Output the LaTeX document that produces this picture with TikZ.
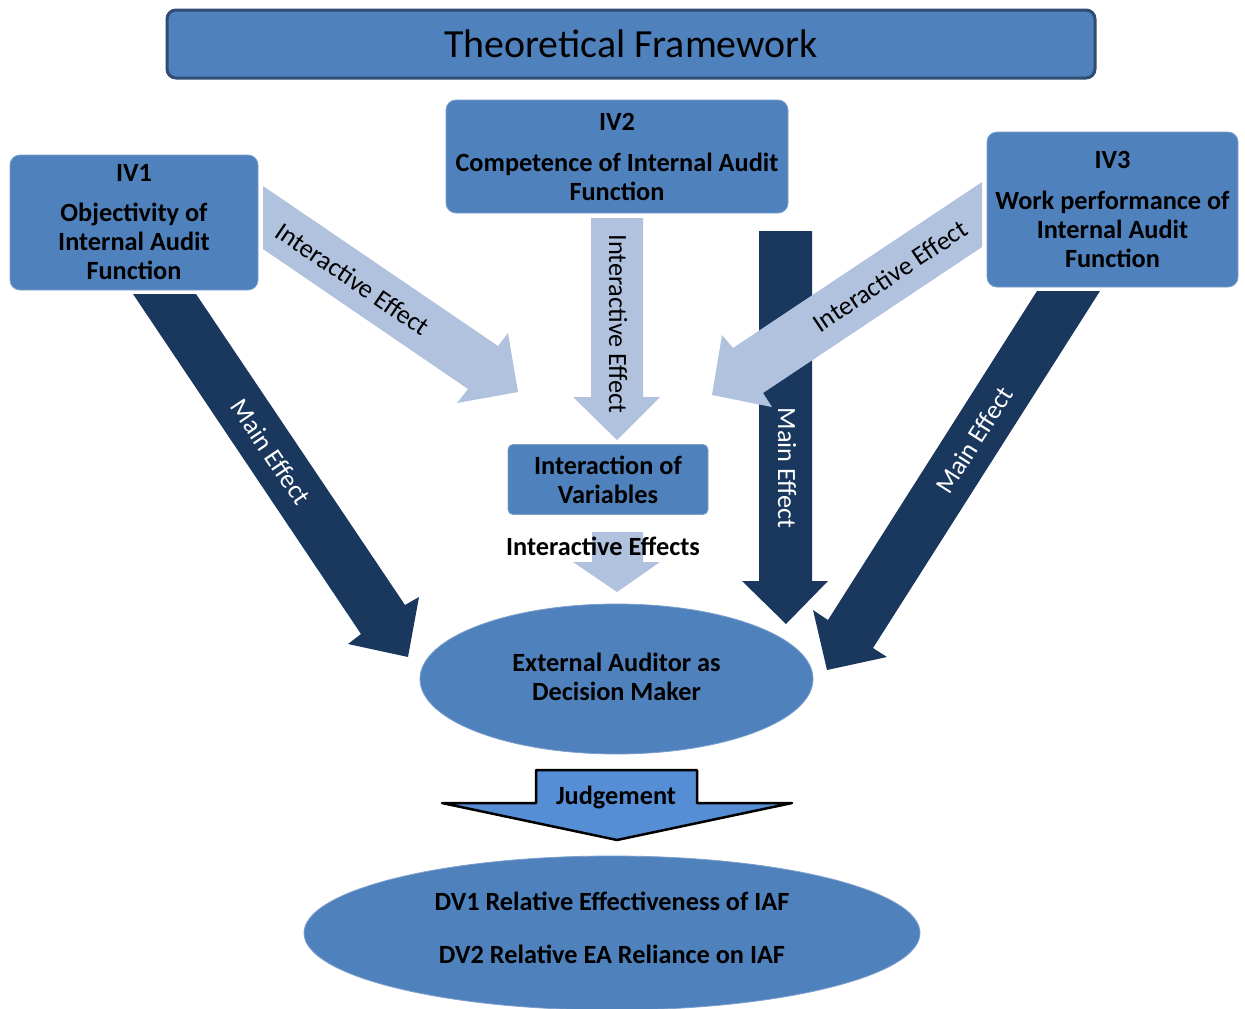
\documentclass[tikz,border=0pt]{standalone}
\usepackage{fontspec}
\setmainfont{Carlito}
\usetikzlibrary{shapes.geometric}
\definecolor{boxblue}{HTML}{4F81BD}
\definecolor{boxedge}{HTML}{7C9FCC}
\definecolor{darkarrow}{HTML}{1A375E}
\definecolor{lightarrow}{HTML}{B1C2DE}
\definecolor{titleedge}{HTML}{2F4D73}
\definecolor{judgeblue}{HTML}{558ED5}
\begin{document}
\begin{tikzpicture}[x=1pt,y=-1pt,
  nodefont/.style={font=\fontsize{26.3}{29}\selectfont\bfseries},
  box/.style={rectangle, rounded corners=10pt, fill=boxblue, draw=boxedge, line width=0.8pt,
    inner sep=0pt, align=center, nodefont},
  oval/.style={ellipse, fill=boxblue, draw=boxedge, line width=0.8pt, inner sep=0pt},
  lbl/.style={font=\fontsize{26.3}{29}\selectfont, inner sep=0pt},
  txt/.style={inner sep=0pt, align=center, nodefont},
  darklbl/.style={lbl, text=white},
  darkfill/.style={fill=darkarrow},
  lightfill/.style={fill=lightarrow}]
\useasboundingbox (0,0) rectangle (1245,1009);
\fill[white] (0,0) rectangle (1245,1009);

% ---- block arrows (drawn first) ----
% left main effect
\fill[darkfill] (133,294) -- (196,294) -- (405,605) -- (419,597) -- (408,657) -- (348,644) -- (361,634) -- cycle;
% vertical main effect
\fill[darkfill] (759,231) -- (812,231) -- (812,581) -- (828,581) -- (786,624) -- (742,581) -- (759,581) -- cycle;
% right main effect
\fill[darkfill] (1037,291) -- (1100,291) -- (873,648) -- (887,657) -- (827,670) -- (813,610) -- (828,620) -- cycle;
% left interactive effect
\fill[lightfill] (263,186) -- (498,346) -- (508,333) -- (518,392) -- (457,403) -- (468,389) -- (263,249) -- cycle;
% centre interactive effect
\fill[lightfill] (591,218) -- (643,218) -- (643,397) -- (660,397) -- (617,440) -- (573,397) -- (591,397) -- cycle;
% right interactive effect
\fill[lightfill] (982,182) -- (982,247) -- (763,393) -- (772,407) -- (712,395) -- (722,335) -- (733,348) -- cycle;
% small interactive effects arrow
\fill[lightfill] (592,532) -- (643,532) -- (643,562) -- (660,562) -- (617,592) -- (573,562) -- (592,562) -- cycle;

% ---- arrow labels ----
\node[lbl, rotate=-34.2] (l1) at (353,279) {Interactive Effect};
\node[lbl, rotate=-90] (l2) at (618,324) {Interactive Effect};
\node[lbl, rotate=33.7] (l3) at (890,276) {Interactive Effect};
\node[darklbl, rotate=-56.1] (m1) at (271,452) {Main Effect};
\node[darklbl, rotate=-90] (m2) at (787,468) {Main Effect};
\node[darklbl, rotate=57.5] (m3) at (974,440) {Main Effect};

% ---- title ----
\node[rectangle, rounded corners=9pt, fill=boxblue, draw=titleedge, line width=3pt,
  minimum width=928pt, minimum height=68pt, inner sep=0pt,
  font=\fontsize{39.9}{44}\selectfont] (title) at (631,44) {Theoretical Framework};

% ---- boxes ----
\node[box, minimum width=248pt, minimum height=135pt] (iv1) at (134,222.5)
  {IV1\\[11pt]Objectivity of\\Internal Audit\\Function};
\node[box, minimum width=342pt, minimum height=113pt] (iv2) at (617,156.5)
  {IV2\\[12pt]Competence of Internal Audit\\Function};
\node[box, minimum width=251pt, minimum height=155pt] (iv3) at (1112.5,209.5)
  {IV3\\[12pt]Work performance of\\Internal Audit\\Function};
\node[box, rounded corners=5pt, minimum width=200pt, minimum height=70pt] (inter) at (608,479.5)
  {Interaction of\\Variables};
\node[txt] (ie) at (603,546) {Interactive Effects};

% ---- ellipses ----
\node[oval, minimum width=393pt, minimum height=150pt] (ea) at (616.5,679) {};
\node[txt] (eatext) at (616.5,677) {External Auditor as\\Decision Maker};
\node[oval, minimum width=616pt, minimum height=154pt] (dv) at (612,933) {};
\node[txt] (dvtext) at (612,928) {DV1 Relative Effectiveness of IAF\\[24pt]DV2 Relative EA Reliance on IAF};

% ---- judgement arrow ----
\fill[judgeblue, draw=black, line width=2.5pt, line join=round]
  (536,770) -- (697,770) -- (697,803) -- (792,803) -- (617,840) -- (442,803) -- (536,803) -- cycle;
\node[txt] (jd) at (616,797) {Judgement};
\end{tikzpicture}
\end{document}
